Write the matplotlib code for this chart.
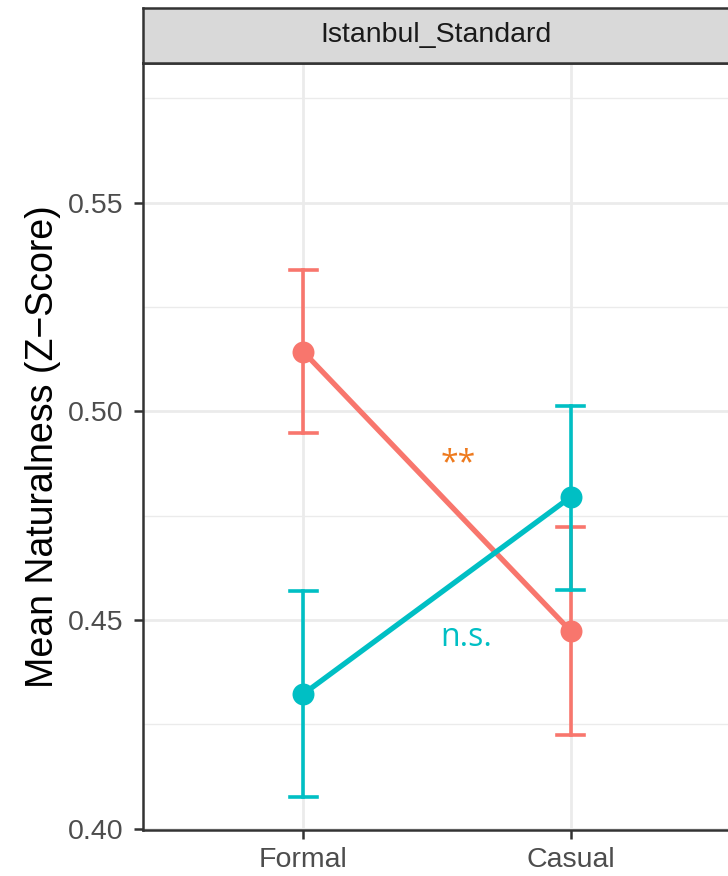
import matplotlib
matplotlib.use("Agg")
import matplotlib.pyplot as plt
from matplotlib.ticker import MultipleLocator

plt.rcParams['font.family'] = ['Liberation Sans', 'DejaVu Sans']

# Data
conditions = ["Formal", "Casual"]
facet_title = "Istanbul_Standard"
series_names = ["red_group", "teal_group"]
series_colors = ["#F8766D", "#00BFC4"]
means = [[0.5143, 0.4474], [0.4323, 0.4795]]
upper = [[0.5339, 0.4723], [0.4569, 0.5014]]
lower = [[0.4949, 0.4224], [0.4076, 0.4572]]
annotations = ["**", "n.s."]
annotation_pos = [(1.578, 0.4875), (1.608, 0.4459)]
annotation_colors = ["#EE7A1E", "#00BFC4"]
y_ticks = [0.40, 0.45, 0.50, 0.55]
y_label = "Mean Naturalness (Z\u2212Score)"

W, H = 728, 876
fig = plt.figure(figsize=(W / 100, H / 100), dpi=100)

left_px, right_px, top_px, bot_px = 143, 731, 63, 830
ax = fig.add_axes([left_px / W, 1 - bot_px / H,
                   (right_px - left_px) / W, (bot_px - top_px) / H])

x = [1, 2]
for i in range(len(series_names)):
    c = series_colors[i]
    ax.plot(x, means[i], color=c, lw=3.8, zorder=3, solid_capstyle='butt')
    for xi, lo, hi in zip(x, lower[i], upper[i]):
        ax.plot([xi, xi], [lo, hi], color=c, lw=2.6, zorder=2)
        ax.plot([xi - 0.05, xi + 0.05], [hi, hi], color=c, lw=2.6, zorder=2)
        ax.plot([xi - 0.05, xi + 0.05], [lo, lo], color=c, lw=2.6, zorder=2)
    ax.scatter(x, means[i], s=250, color=c, zorder=4, linewidths=0)

for txt, (tx, ty), tc in zip(annotations, annotation_pos, annotation_colors):
    ax.text(tx, ty, txt, color=tc, fontsize=23, ha='center', va='center',
            family=['Open Sans', 'DejaVu Sans'])

ax.set_xlim(0.4, 2.6)
ax.set_ylim(0.3997, 0.5835)
ax.set_xticks(x)
ax.set_xticklabels(conditions)
ax.set_yticks(y_ticks)
ax.set_yticklabels([f"{v:.2f}" for v in y_ticks])
ax.yaxis.set_minor_locator(MultipleLocator(0.025))

ax.grid(True, which='major', color='#EBEBEB', lw=2.0, zorder=0)
ax.grid(True, which='minor', axis='y', color='#EBEBEB', lw=1.0, zorder=0)
ax.set_axisbelow(True)

ax.tick_params(axis='both', which='major', length=6.5, width=1.8, color='#333333',
               labelcolor='#4D4D4D', labelsize=20.5)
ax.tick_params(axis='y', which='major', pad=7.5)
ax.tick_params(axis='x', which='major', pad=5.5)
ax.tick_params(axis='both', which='minor', length=0)
for side in ['left', 'bottom', 'top']:
    ax.spines[side].set_color('#333333')
    ax.spines[side].set_linewidth(1.8)
ax.spines['right'].set_visible(False)

ax.set_ylabel(y_label, fontsize=27, color='black', labelpad=5)

# facet strip
strip_top = 8
sax = fig.add_axes([left_px / W, 1 - top_px / H,
                    (right_px - left_px) / W, (top_px - strip_top) / H])
sax.set_xlim(0, 1)
sax.set_ylim(0, 1)
sax.set_xticks([])
sax.set_yticks([])
sax.set_facecolor('#D9D9D9')
for side in ['left', 'bottom', 'top']:
    sax.spines[side].set_color('#333333')
    sax.spines[side].set_linewidth(1.8)
sax.spines['right'].set_visible(False)
strip_center = (436 - left_px) / (right_px - left_px)
sax.text(strip_center, 0.5, facet_title, ha='center', va='center',
         fontsize=20.5, color='#1A1A1A')

fig.savefig("out.png", dpi=100)
